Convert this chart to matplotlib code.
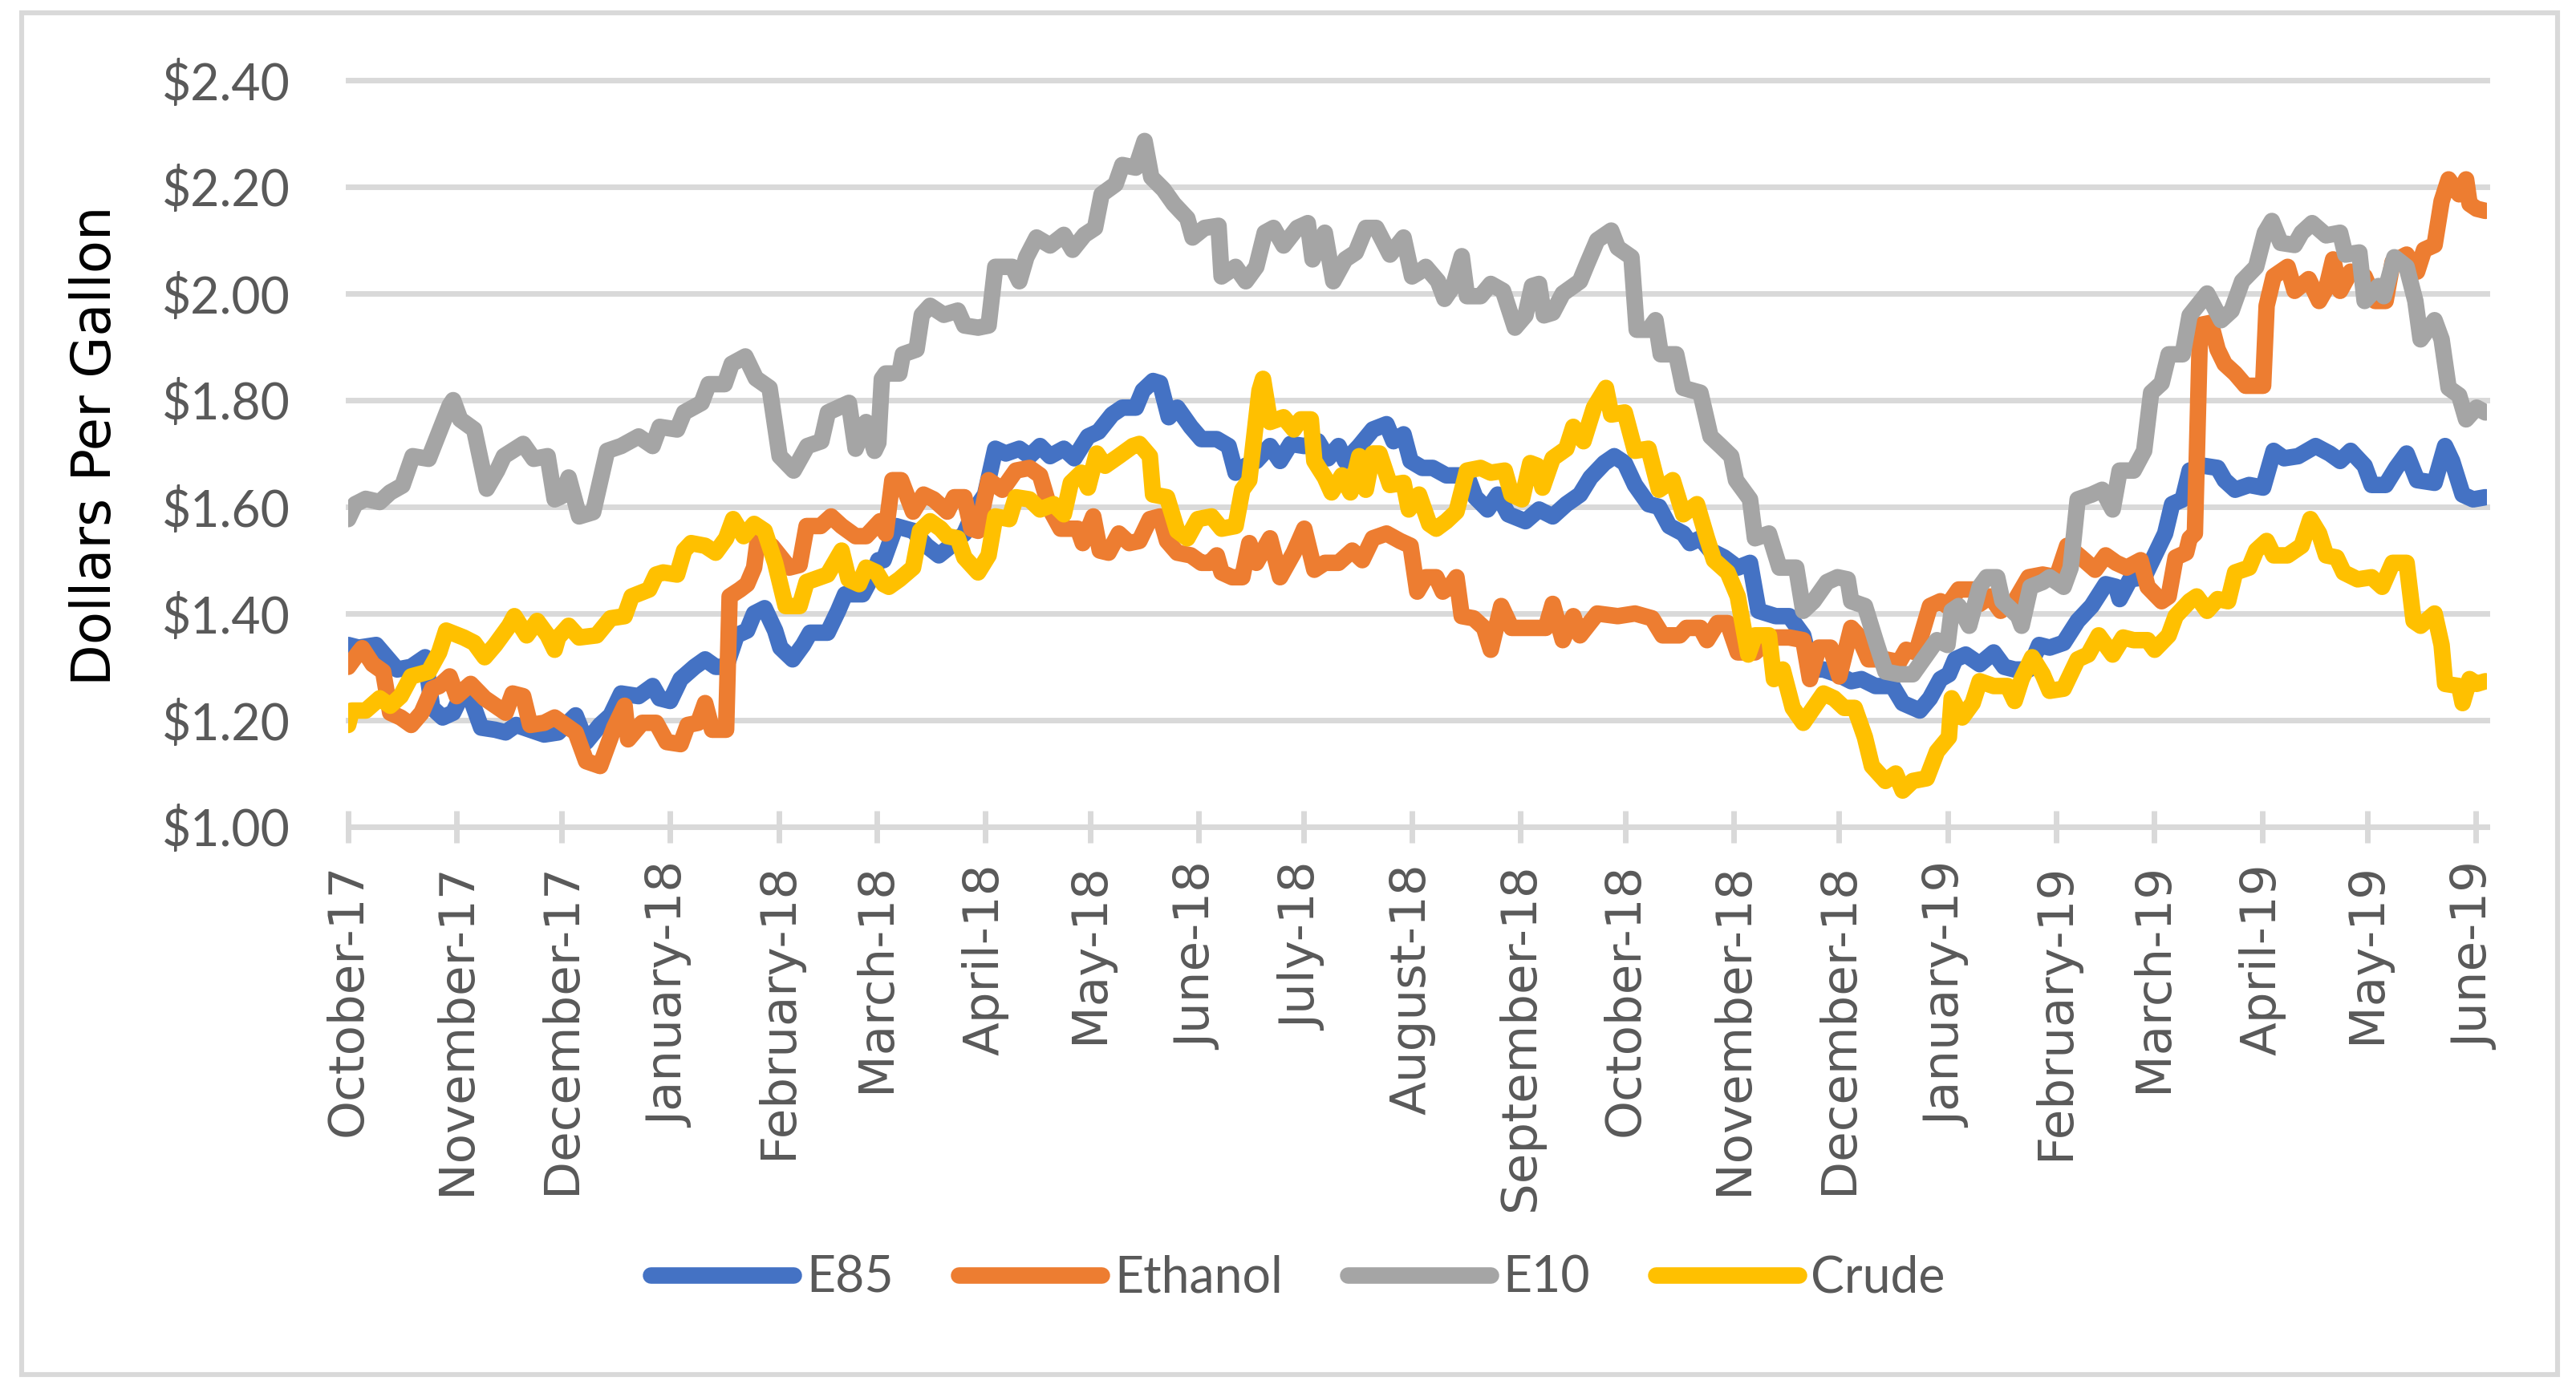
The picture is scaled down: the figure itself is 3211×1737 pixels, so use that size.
import numpy as np
import pandas as pd
import matplotlib
matplotlib.use("Agg")
import matplotlib.pyplot as plt
from matplotlib.patches import Rectangle

# day offsets are counted from 2017-10-01
START = np.datetime64("2017-10-01")

e85_days = [
    0, 3, 8, 11, 14, 18, 22, 24, 27, 30,
    32, 35, 38, 42, 45, 48, 52, 56, 60, 65,
    68, 72, 75, 78, 83, 87, 89, 92, 95, 99,
    102, 105, 108, 111, 114, 116, 119, 122, 123.5, 127,
    130, 132, 137, 140, 142, 147, 150, 151.5, 153, 156.5,
    161.4, 165.3, 168.8, 172.2, 176.1, 179.1, 182, 184.9, 187.9, 191.8,
    194.7, 197.7, 200.6, 204.5, 207.5, 211.4, 214.4, 218.3, 221.2, 225.1,
    227.1, 230, 232, 234.5, 236.9, 240.8, 243.8, 248.2, 251.6, 253.6,
    256.5, 259.5, 263.4, 266.3, 269.3, 273.2, 277.1, 280, 283, 284.9,
    288.9, 292.8, 296.7, 298.7, 301.6, 303.6, 306.9, 309.9, 313.8, 319.7,
    322.1, 325.6, 328.5, 331.5, 336.4, 340.3, 344.2, 348.1, 352, 355,
    358.9, 361.8, 364.8, 367.7, 371.6, 374.6, 377.5, 381.5, 383.4, 386.4,
    389.3, 393.2, 397.1, 400.6, 403, 407.9, 411.8, 415.8, 418.2, 421.6,
    425.6, 429.5, 432.4, 436.4, 441.3, 444.2, 449.1, 452, 455, 457.4,
    459.2, 462.2, 466.2, 470.2, 473.2, 476.2, 480.2, 483.2, 486.2, 490.2,
    494.2, 498.2, 502.2, 505.2, 506.2, 509.2, 513.2, 516.2, 519.2, 521.2,
    524.2, 526.2, 530.2, 534.2, 536.2, 539.2, 543.2, 547.2, 550.2, 553.2,
    557.2, 562.2, 566.2, 569.2, 572.2, 576.2, 578.2, 582.2, 585.2, 588.2,
    591.2, 596.2, 599.2, 601.2, 604.2, 607.2, 610.7,
]
e85_vals = [
    1.341, 1.336, 1.341, 1.318, 1.295, 1.30, 1.318, 1.223, 1.205, 1.214,
    1.241, 1.241, 1.186, 1.182, 1.177, 1.191, 1.182, 1.173, 1.177, 1.209,
    1.159, 1.191, 1.209, 1.25, 1.245, 1.264, 1.241, 1.236, 1.277, 1.30,
    1.314, 1.30, 1.30, 1.359, 1.368, 1.40, 1.41, 1.368, 1.336, 1.314,
    1.341, 1.364, 1.364, 1.405, 1.436, 1.436, 1.473, 1.50, 1.50, 1.564,
    1.555, 1.527, 1.509, 1.527, 1.55, 1.595, 1.623, 1.709, 1.70, 1.709,
    1.695, 1.714, 1.695, 1.709, 1.691, 1.732, 1.741, 1.773, 1.786, 1.786,
    1.818, 1.836, 1.832, 1.768, 1.786, 1.75, 1.727, 1.727, 1.714, 1.664,
    1.677, 1.686, 1.714, 1.686, 1.718, 1.714, 1.723, 1.691, 1.714, 1.686,
    1.714, 1.745, 1.755, 1.723, 1.736, 1.686, 1.673, 1.673, 1.659, 1.659,
    1.618, 1.595, 1.623, 1.586, 1.573, 1.595, 1.582, 1.605, 1.623, 1.655,
    1.682, 1.695, 1.682, 1.641, 1.605, 1.60, 1.564, 1.55, 1.532, 1.541,
    1.518, 1.505, 1.486, 1.495, 1.405, 1.395, 1.395, 1.359, 1.295, 1.295,
    1.286, 1.273, 1.277, 1.264, 1.264, 1.232, 1.218, 1.241, 1.277, 1.286,
    1.314, 1.323, 1.305, 1.327, 1.30, 1.295, 1.295, 1.341, 1.336, 1.345,
    1.386, 1.414, 1.455, 1.45, 1.427, 1.464, 1.468, 1.509, 1.55, 1.605,
    1.614, 1.668, 1.677, 1.673, 1.65, 1.632, 1.641, 1.636, 1.705, 1.691,
    1.695, 1.714, 1.70, 1.686, 1.705, 1.677, 1.641, 1.641, 1.673, 1.70,
    1.65, 1.645, 1.714, 1.686, 1.623, 1.614, 1.618,
]

ethanol_days = [
    0, 3, 4, 7, 10, 12, 15, 18, 21, 24,
    26, 29, 31, 35, 39, 43, 45, 47, 50, 52,
    56, 59, 62, 65, 68, 72, 76, 79, 80, 84,
    88, 91, 95, 97, 100, 102, 104, 108, 109, 112,
    114, 116, 117, 121, 126, 129, 131, 135, 138, 141,
    145, 148, 152, 153.6, 155.5, 158, 161.4, 164.4, 167.3, 171.2,
    173.2, 176.1, 178.1, 180, 183, 186.9, 190.8, 194.7, 197.7, 200.6,
    203.6, 208.5, 209.9, 212.9, 214.8, 217.3, 220.2, 223.2, 226.1, 229.1,
    232, 234, 236.9, 240.8, 243.8, 246.2, 248.2, 249.6, 252.6, 255.5,
    257.5, 259.5, 263.4, 266.3, 270.2, 273.2, 276.1, 279.1, 283, 286.9,
    289.8, 292.8, 296.7, 300.6, 303.6, 305.5, 307.9, 310.9, 312.8, 314.8,
    316.7, 318.2, 321.6, 324.6, 326.5, 329.5, 332.4, 337.3, 342.2, 344.2,
    347.1, 350.1, 352, 356.9, 362.8, 367.7, 372.6, 375.6, 380.5, 382.4,
    386.4, 388.3, 391.3, 394.2, 397.1, 402, 406.9, 411.8, 415.8, 417.7,
    420.2, 423.6, 426.1, 429.5, 431.5, 434.4, 439.3, 443.2, 445.2, 448.1,
    452, 455, 456.9, 460.2, 465.2, 466.2, 469.2, 472.2, 476.2, 480.2,
    484.2, 488.2, 491.2, 495.2, 499.2, 502.2, 505.2, 508.2, 512.2, 514.2,
    518.2, 520.2, 522.2, 525.2, 526.2, 527.7, 529.2, 532.2, 534.2, 536.2,
    539.2, 542.2, 547.2, 548.2, 550.2, 554.2, 556.2, 560.2, 563.2, 565.2,
    567.2, 569.2, 572.2, 576.2, 579.2, 582.2, 584.2, 588.2, 591.2, 593.2,
    596.2, 598.2, 600.2, 603.2, 605.2, 606.2, 608.2, 610.7,
]
ethanol_vals = [
    1.30, 1.327, 1.335, 1.305, 1.291, 1.214, 1.205, 1.191, 1.214, 1.259,
    1.264, 1.282, 1.245, 1.268, 1.241, 1.223, 1.214, 1.25, 1.245, 1.191,
    1.195, 1.205, 1.191, 1.177, 1.123, 1.114, 1.186, 1.227, 1.164, 1.195,
    1.195, 1.159, 1.155, 1.191, 1.195, 1.232, 1.182, 1.182, 1.432, 1.445,
    1.455, 1.486, 1.536, 1.527, 1.486, 1.491, 1.564, 1.564, 1.582, 1.564,
    1.545, 1.545, 1.573, 1.55, 1.65, 1.65, 1.591, 1.623, 1.614, 1.591,
    1.618, 1.618, 1.559, 1.555, 1.65, 1.632, 1.668, 1.673, 1.659, 1.595,
    1.559, 1.559, 1.532, 1.582, 1.518, 1.514, 1.55, 1.532, 1.536, 1.577,
    1.582, 1.536, 1.514, 1.509, 1.495, 1.495, 1.509, 1.477, 1.468, 1.468,
    1.532, 1.495, 1.541, 1.468, 1.514, 1.559, 1.482, 1.495, 1.495, 1.518,
    1.50, 1.541, 1.55, 1.536, 1.527, 1.441, 1.468, 1.468, 1.441, 1.45,
    1.468, 1.395, 1.391, 1.373, 1.332, 1.414, 1.373, 1.373, 1.373, 1.418,
    1.35, 1.395, 1.359, 1.40, 1.395, 1.40, 1.391, 1.359, 1.359, 1.373,
    1.373, 1.35, 1.382, 1.382, 1.327, 1.327, 1.355, 1.355, 1.35, 1.277,
    1.336, 1.336, 1.282, 1.373, 1.359, 1.314, 1.314, 1.309, 1.332, 1.327,
    1.414, 1.423, 1.414, 1.445, 1.445, 1.418, 1.432, 1.405, 1.423, 1.468,
    1.473, 1.468, 1.527, 1.505, 1.482, 1.509, 1.495, 1.486, 1.50, 1.45,
    1.423, 1.432, 1.505, 1.514, 1.541, 1.55, 1.941, 1.945, 1.895, 1.868,
    1.85, 1.827, 1.827, 1.977, 2.032, 2.05, 2.005, 2.027, 1.986, 2.009,
    2.064, 2.005, 2.041, 2.032, 1.986, 1.986, 2.059, 2.073, 2.041, 2.082,
    2.091, 2.173, 2.214, 2.186, 2.214, 2.168, 2.159, 2.155,
]

e10_days = [
    0, 2, 5, 9, 12, 15.5, 18.4, 23, 26, 29,
    30, 32, 36, 39.6, 42.6, 44.5, 50, 53, 57, 59,
    61, 63, 66, 70, 74, 78, 83, 87, 89, 94,
    96, 101, 103, 107.6, 109.6, 113.5, 116.5, 120.4, 123.3, 127.3,
    131.2, 135.2, 137.1, 143.1, 145, 148, 150.4, 151.5, 152.5, 153.6,
    157.5, 158.5, 162.4, 163.9, 166.3, 170.2, 174.2, 176.1, 180, 183,
    184.9, 189.8, 191.8, 193.8, 196.7, 200.6, 204.5, 207, 210.4, 213.4,
    215.3, 219.3, 221.2, 225.1, 227.6, 229.5, 233, 235.9, 239.8, 241.3,
    244.7, 248.7, 249.6, 253.6, 256.5, 259.5, 261.9, 264.4, 267.3, 271.2,
    274.2, 275.6, 279.1, 281.5, 284.9, 287.9, 290.8, 293.8, 297.7, 301.6,
    304, 306, 307.9, 311.4, 313.3, 315.8, 318.2, 319.7, 323.6, 326.5,
    330, 333.4, 336.4, 338.3, 340.3, 341.7, 344.2, 347.1, 352, 354,
    356.9, 360.9, 362.8, 366.7, 368.2, 371.6, 373.6, 375.1, 379.5, 381.5,
    386.4, 389.3, 392.2, 395.2, 396.6, 400.6, 402, 406, 409, 413.8,
    415.8, 418.7, 422.6, 425.6, 428.5, 429.5, 433.4, 436.4, 439.3, 443.2,
    447.1, 451.1, 454, 457, 458.2, 460.2, 463.2, 466.2, 468.2, 471.2,
    472.7, 477.2, 478.2, 480.7, 484.2, 486.2, 490.2, 492.2, 494.2, 498.2,
    501.2, 504.2, 506.2, 510.2, 513.2, 515.2, 518.2, 520.2, 524.2, 526.2,
    531.2, 535.2, 538.2, 541.2, 545.2, 547.7, 549.7, 552.2, 556.2, 558.2,
    561.2, 565.2, 569.2, 570.7, 574.7, 576.2, 580.2, 581.7, 584.7, 588.2,
    590.7, 592.2, 596.2, 598.2, 600.2, 603.2, 605.2, 608.2, 610.7,
]
e10_vals = [
    1.577, 1.605, 1.615, 1.609, 1.627, 1.64, 1.695, 1.69, 1.74, 1.79,
    1.80, 1.764, 1.745, 1.634, 1.668, 1.695, 1.718, 1.69, 1.695, 1.614,
    1.62, 1.655, 1.582, 1.59, 1.705, 1.714, 1.732, 1.714, 1.75, 1.745,
    1.777, 1.795, 1.83, 1.83, 1.868, 1.882, 1.841, 1.823, 1.695, 1.668,
    1.714, 1.723, 1.777, 1.795, 1.709, 1.759, 1.705, 1.72, 1.84, 1.85,
    1.85, 1.886, 1.895, 1.96, 1.977, 1.96, 1.968, 1.94, 1.936, 1.94,
    2.05, 2.05, 2.023, 2.068, 2.105, 2.09, 2.11, 2.082, 2.11, 2.123,
    2.186, 2.205, 2.241, 2.236, 2.286, 2.218, 2.195, 2.168, 2.141, 2.105,
    2.123, 2.127, 2.032, 2.05, 2.023, 2.05, 2.114, 2.123, 2.09, 2.123,
    2.132, 2.064, 2.114, 2.023, 2.064, 2.077, 2.123, 2.123, 2.073, 2.105,
    2.032, 2.04, 2.05, 2.023, 1.99, 2.014, 2.07, 1.995, 1.995, 2.018,
    2.005, 1.936, 1.959, 2.014, 2.018, 1.959, 1.964, 2.0, 2.023, 2.055,
    2.10, 2.118, 2.086, 2.068, 1.932, 1.932, 1.95, 1.886, 1.886, 1.823,
    1.814, 1.732, 1.714, 1.695, 1.65, 1.614, 1.541, 1.55, 1.486, 1.486,
    1.405, 1.423, 1.459, 1.468, 1.464, 1.423, 1.414, 1.35, 1.291, 1.286,
    1.286, 1.323, 1.35, 1.341, 1.405, 1.414, 1.377, 1.45, 1.468, 1.468,
    1.423, 1.395, 1.377, 1.45, 1.459, 1.468, 1.45, 1.486, 1.614, 1.623,
    1.632, 1.595, 1.668, 1.668, 1.705, 1.814, 1.832, 1.886, 1.886, 1.959,
    2.0, 1.95, 1.968, 2.023, 2.05, 2.114, 2.136, 2.095, 2.091, 2.114,
    2.132, 2.109, 2.114, 2.073, 2.077, 1.986, 2.014, 1.995, 2.068, 2.05,
    1.986, 1.914, 1.95, 1.914, 1.823, 1.809, 1.764, 1.786, 1.777,
]

crude_days = [
    0, 1, 5, 9, 12, 15, 18, 23, 26, 28,
    33, 36, 39, 42, 46, 47.5, 51, 54, 57, 59,
    60, 63, 66, 71, 75, 79, 81, 86, 88, 90,
    94, 96, 98, 102, 105, 108, 110, 113, 116, 119,
    122, 125, 129, 131, 137, 141, 143, 146, 148, 151,
    153, 154.5, 157.5, 161.4, 163.4, 166.3, 169.3, 171.2, 174.2, 176.1,
    180, 183, 184.9, 188.9, 190.8, 194.7, 197.7, 201.6, 204.5, 206.5,
    209.5, 211.4, 213.9, 216.3, 220.2, 224.2, 226.1, 229.1, 230, 234,
    236.9, 239.8, 242.8, 246.7, 249.6, 253.6, 255.5, 257.5, 260.4, 261.4,
    263.4, 267.3, 270.2, 272.2, 275.1, 276.1, 279.1, 281, 284, 286.4,
    288.9, 290.8, 292.8, 294.7, 297.7, 301.6, 303.1, 306, 308.9, 310.9,
    313.8, 316.7, 319.7, 323.6, 326.5, 330.5, 332.4, 335.4, 337.8, 339.8,
    341.3, 344.2, 348.1, 350.1, 353, 356, 359.4, 360.9, 364.8, 367.7,
    371.6, 374.6, 378.5, 381.5, 385.4, 388.3, 390.3, 394.2, 397.1, 400.1,
    402, 406, 407.4, 409.9, 412.8, 415.8, 419.7, 421.6, 424.6, 427.5,
    430.5, 433.4, 435.4, 439.3, 442.2, 444.2, 447.1, 451.1, 454, 457.4,
    458.2, 461.2, 464.2, 466.2, 470.2, 474.2, 476.2, 478.2, 481.2, 484.2,
    486.2, 490.2, 494.2, 497.2, 500.2, 504.2, 507.2, 510.2, 514.2, 516.2,
    520.2, 522.2, 526.2, 528.2, 531.2, 534.2, 537.2, 539.2, 543.2, 545.2,
    548.2, 550.2, 554.2, 558.2, 560.7, 563.2, 565.2, 568.2, 570.2, 574.2,
    578.2, 581.2, 584.2, 588.2, 590.2, 592.2, 596.2, 598.2, 599.2, 603.2,
    604.2, 606.2, 608.2, 610.7,
]
crude_vals = [
    1.191, 1.218, 1.218, 1.241, 1.227, 1.245, 1.282, 1.291, 1.327, 1.368,
    1.355, 1.345, 1.318, 1.341, 1.377, 1.395, 1.359, 1.386, 1.359, 1.332,
    1.355, 1.377, 1.355, 1.359, 1.391, 1.395, 1.432, 1.445, 1.473, 1.477,
    1.473, 1.518, 1.532, 1.527, 1.514, 1.541, 1.577, 1.545, 1.568, 1.555,
    1.495, 1.414, 1.414, 1.459, 1.473, 1.518, 1.464, 1.455, 1.486, 1.477,
    1.455, 1.45, 1.464, 1.486, 1.555, 1.573, 1.559, 1.545, 1.541, 1.505,
    1.477, 1.509, 1.582, 1.577, 1.618, 1.614, 1.595, 1.605, 1.586, 1.645,
    1.664, 1.636, 1.70, 1.677, 1.695, 1.714, 1.718, 1.695, 1.623, 1.618,
    1.555, 1.541, 1.577, 1.582, 1.559, 1.564, 1.632, 1.65, 1.818, 1.84,
    1.759, 1.768, 1.745, 1.764, 1.764, 1.686, 1.655, 1.627, 1.659, 1.627,
    1.695, 1.632, 1.70, 1.70, 1.641, 1.645, 1.595, 1.623, 1.568, 1.559,
    1.573, 1.591, 1.668, 1.673, 1.664, 1.668, 1.623, 1.614, 1.682, 1.677,
    1.636, 1.691, 1.709, 1.75, 1.723, 1.786, 1.823, 1.773, 1.777, 1.705,
    1.709, 1.632, 1.65, 1.586, 1.605, 1.541, 1.50, 1.477, 1.432, 1.323,
    1.359, 1.359, 1.277, 1.295, 1.223, 1.195, 1.232, 1.25, 1.241, 1.223,
    1.223, 1.168, 1.114, 1.086, 1.10, 1.068, 1.086, 1.091, 1.141, 1.168,
    1.241, 1.205, 1.232, 1.273, 1.264, 1.264, 1.236, 1.277, 1.318, 1.286,
    1.255, 1.259, 1.314, 1.323, 1.359, 1.323, 1.355, 1.35, 1.35, 1.332,
    1.359, 1.395, 1.423, 1.432, 1.405, 1.427, 1.423, 1.477, 1.486, 1.518,
    1.536, 1.509, 1.509, 1.527, 1.577, 1.55, 1.509, 1.505, 1.477, 1.464,
    1.468, 1.45, 1.495, 1.495, 1.386, 1.377, 1.40, 1.341, 1.268, 1.264,
    1.232, 1.277, 1.268, 1.273,
]

series_names = ["E85", "Ethanol", "E10", "Crude"]
series_colors = ["#4472C4", "#ED7D31", "#A5A5A5", "#FFC000"]
month_ticks = pd.date_range("2017-10-01", "2019-06-01", freq="MS")
y_ticks = [1.00, 1.20, 1.40, 1.60, 1.80, 2.00, 2.20, 2.40]


def to_dates(days):
    hours = np.round(np.asarray(days) * 24).astype("timedelta64[h]")
    return START + hours


W, H, DPI = 3212, 1737, 200
fig = plt.figure(figsize=(W / DPI, H / DPI), dpi=DPI)
ax = fig.add_axes([434 / W, 1 - 1031 / H, (3100 - 434) / W, (1031 - 100) / H])

grid_c = "#D9D9D9"
text_c = "#595959"
lw = 7.4

all_days = [e85_days, ethanol_days, e10_days, crude_days]
all_vals = [e85_vals, ethanol_vals, e10_vals, crude_vals]
for name, c, d, v in zip(series_names, series_colors, all_days, all_vals):
    assert len(d) == len(v), name
    ax.plot(to_dates(d), v, color=c, lw=lw, label=name,
            solid_joinstyle="round", solid_capstyle="round", zorder=3)

ax.set_ylim(1.0, 2.4)
ax.set_xlim(START, START + np.timedelta64(int(611.2 * 24), "h"))

ax.set_yticks(y_ticks)
ax.set_yticklabels([f"${t:.2f}" for t in y_ticks])
ax.tick_params(axis="y", length=0, pad=26, labelsize=22.5, labelcolor=text_c)
for lab in ax.get_yticklabels():
    lab.set_family("Lato")

ax.set_xticks(month_ticks)
ax.set_xticklabels([t.strftime("%B-%y") for t in month_ticks], rotation=90)
ax.tick_params(axis="x", direction="inout", length=14.5, width=2.5,
               color=grid_c, pad=9, labelsize=22, labelcolor=text_c)

ax.yaxis.grid(True, color=grid_c, lw=2.5, zorder=0)
for gl in ax.get_ygridlines():
    gl.set_clip_on(False)
ax.set_axisbelow(True)
for s in ["top", "right", "left"]:
    ax.spines[s].set_visible(False)
ax.spines["bottom"].set_color(grid_c)
ax.spines["bottom"].set_linewidth(2.5)

fig.text(119 / W, 1 - 556 / H, "Dollars Per Gallon", rotation=90,
         ha="center", va="center", fontsize=24.2, color="black")

leg = fig.legend(loc="center", bbox_to_anchor=(1618 / W, 1 - 1594 / H), ncol=4,
                 frameon=False, handlelength=2.85, handletextpad=0.25,
                 columnspacing=1.3, prop={"family": "Lato", "size": 22.5})
for t in leg.get_texts():
    t.set_color(text_c)
for h in leg.get_lines():
    h.set_solid_capstyle("round")

fig.patches.append(Rectangle((27 / W, 1 - 1714 / H), (3188 - 27) / W, (1714 - 16) / H,
                             transform=fig.transFigure, fill=False,
                             edgecolor=grid_c, lw=2.2))

fig.savefig("out.png", dpi=DPI, facecolor="white")
